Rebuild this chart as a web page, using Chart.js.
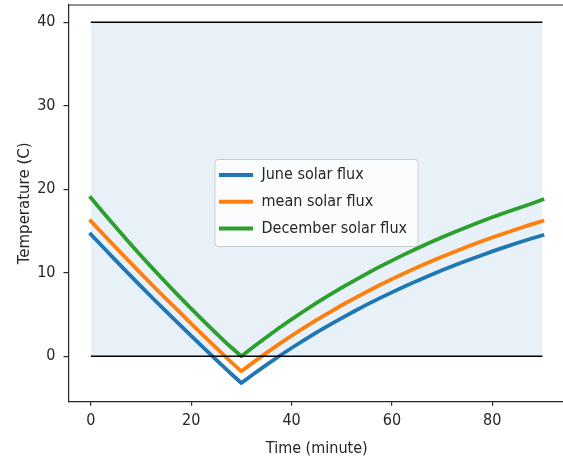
<!DOCTYPE html>
<html><head><meta charset="utf-8">
<script src="https://cdn.jsdelivr.net/npm/chart.js@4.4.0/dist/chart.umd.min.js"></script>
<style>
html,body{margin:0;padding:0;overflow:hidden;background:#fff;width:563px;height:462px}
#wrap{position:absolute;left:0;top:0;width:600px;height:462px}
</style>
</head><body><div id="wrap"><canvas id="c" width="600" height="462"></canvas></div>
<script>
// ---- data ----
const time = [0,2.5,5,7.5,10,12.5,15,17.5,20,22.5,25,27.5,30,32.5,35,37.5,40,42.5,45,47.5,50,52.5,55,57.5,60,62.5,65,67.5,70,72.5,75,77.5,80,82.5,85,87.5,90];
const juneFlux = [14.6,13.02,11.45,9.9,8.37,6.86,5.38,3.92,2.44,1.0,-0.42,-1.85,-3.2,
  -2.09,-1.03,0.0,0.99,1.93,2.85,3.72,4.57,5.39,6.18,6.93,7.65,8.35,9.03,9.67,10.29,10.89,11.47,12.02,12.56,13.07,13.56,14.04,14.49];
const meanFlux = [16.2,14.6,13.01,11.45,9.9,8.37,6.88,5.4,3.91,2.45,1.01,-0.43,-1.8,
  -0.67,0.41,1.45,2.46,3.42,4.35,5.24,6.11,6.93,7.73,8.5,9.24,9.95,10.63,11.29,11.92,12.53,13.12,13.68,14.22,14.74,15.25,15.73,16.19];
const decemberFlux = [19.0,17.2,15.45,13.72,12.05,10.41,8.8,7.24,5.71,4.22,2.75,1.32,0.0,
  1.17,2.29,3.38,4.42,5.42,6.39,7.31,8.21,9.07,9.9,10.7,11.46,12.2,12.91,13.59,14.25,14.88,15.49,16.07,16.64,17.18,17.7,18.2,18.75];
const seriesLabels = ['June solar flux','mean solar flux','December solar flux'];
const xTicks = [0,20,40,60,80];
const yTicks = [0,10,20,30,40];
const bandX = [0,90];
const bandLow = 0;
const bandHigh = 40;

// ---- styles ----
const COLORS = ['#1f77b4','#ff7f0e','#2ca02c'];
const FONT = "'DejaVu Sans Condensed','Liberation Sans Narrow','DejaVu Sans',sans-serif";
const TXT = '#262626';
const SPINE = '#262626';

const pts = (xs, ys) => xs.map((x,i)=>({x, y: ys[i]}));
const series = [juneFlux, meanFlux, decemberFlux];

const datasets = series.map((s,i)=>({
  label: seriesLabels[i], data: pts(time, s), borderColor: COLORS[i], backgroundColor: COLORS[i],
  borderWidth: 3.8, pointRadius: 0, tension: 0, fill: false,
  borderJoinStyle: 'round', borderCapStyle: 'square', order: 10 - i
}));
datasets.push({
  label: 'top', data: pts(bandX, bandX.map(()=>bandHigh)), borderColor: '#000', borderWidth: 1.5,
  pointRadius: 0, fill: '+1', backgroundColor: 'rgba(31,119,180,0.1)', order: 0
});
datasets.push({
  label: 'zero', data: pts(bandX, bandX.map(()=>bandLow)), borderColor: '#000', borderWidth: 1.5,
  pointRadius: 0, fill: false, order: 0
});

const framePlugin = {
  id: 'frame',
  afterDraw(chart) {
    const {ctx, chartArea: a} = chart;
    ctx.save();
    ctx.strokeStyle = SPINE; ctx.lineWidth = 1.2;
    ctx.beginPath(); ctx.moveTo(a.left, a.top); ctx.lineTo(a.right + 10, a.top); ctx.stroke();
    // legend
    const bx = 215, by = 159.5, bw = 203, bh = 87, r = 3;
    ctx.beginPath();
    ctx.moveTo(bx + r, by); ctx.lineTo(bx + bw - r, by); ctx.arcTo(bx + bw, by, bx + bw, by + r, r);
    ctx.lineTo(bx + bw, by + bh - r); ctx.arcTo(bx + bw, by + bh, bx + bw - r, by + bh, r);
    ctx.lineTo(bx + r, by + bh); ctx.arcTo(bx, by + bh, bx, by + bh - r, r);
    ctx.lineTo(bx, by + r); ctx.arcTo(bx, by, bx + r, by, r); ctx.closePath();
    ctx.fillStyle = 'rgba(255,255,255,0.8)'; ctx.fill();
    ctx.strokeStyle = '#cccccc'; ctx.lineWidth = 1; ctx.stroke();
    const rowY = [175, 201.7, 228.5];
    chart.data.datasets.slice(0, 3).forEach((d, i) => {
      ctx.strokeStyle = d.borderColor; ctx.lineWidth = 4; ctx.lineCap = 'butt';
      ctx.beginPath(); ctx.moveTo(219, rowY[i]); ctx.lineTo(253, rowY[i]); ctx.stroke();
      ctx.fillStyle = TXT; ctx.font = '16px ' + FONT; ctx.textBaseline = 'middle'; ctx.textAlign = 'left';
      ctx.fillText(d.label, 261.5, rowY[i]);
    });
    ctx.restore();
  }
};

const zeroPad = s => { s.paddingTop = 0; s.paddingBottom = 0; s.paddingLeft = 0; s.paddingRight = 0; };

new Chart(document.getElementById('c'), {
  type: 'line',
  data: { datasets },
  plugins: [framePlugin],
  options: {
    responsive: false, animation: false, devicePixelRatio: 1,
    layout: { padding: { top: 5, right: 35, left: 0, bottom: 0 } },
    plugins: { legend: { display: false }, tooltip: { enabled: false }, filler: { drawTime: 'beforeDatasetsDraw' } },
    scales: {
      x: {
        type: 'linear', min: -4.45, max: 94.5,
        afterBuildTicks: s => { s.ticks = xTicks.map(v => ({ value: v })); },
        afterFit: s => { s.height = 60.3; zeroPad(s); },
        grid: { display: true, drawOnChartArea: false, drawTicks: true, tickLength: 4, color: SPINE, lineWidth: 1.2 },
        border: { display: true, color: SPINE, width: 1.2 },
        ticks: { font: { family: FONT, size: 16 }, color: TXT, padding: 6, maxRotation: 0, autoSkip: false },
        title: { display: true, text: 'Time (minute)', font: { family: FONT, size: 16 }, color: TXT, padding: { top: 0, bottom: 4 } }
      },
      y: {
        type: 'linear', min: -5.44, max: 42.07,
        afterBuildTicks: s => { s.ticks = yTicks.map(v => ({ value: v })); },
        afterFit: s => { s.width = 68.5; zeroPad(s); },
        grid: { display: true, drawOnChartArea: false, drawTicks: true, tickLength: 5, color: SPINE, lineWidth: 1.2 },
        border: { display: true, color: SPINE, width: 1.2 },
        ticks: { font: { family: FONT, size: 16 }, color: TXT, padding: 8, autoSkip: false },
        title: { display: true, text: 'Temperature (C)', font: { family: "'DejaVu Sans',sans-serif", size: 15 }, color: TXT, padding: { top: 16, bottom: 0 } }
      }
    }
  }
});
</script>
</body></html>
